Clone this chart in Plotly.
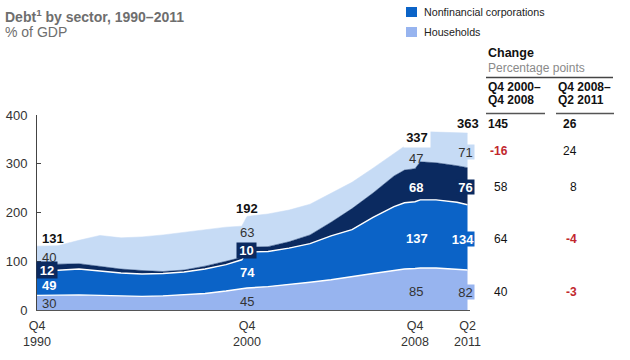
import plotly.graph_objects as go

# ---------------- data (% of GDP) ----------------
quarters = ["1990Q4", "1991Q4", "1992Q4", "1993Q4", "1994Q4", "1995Q4", "1996Q4",
            "1997Q4", "1998Q4", "1999Q4", "2000Q3", "2000Q4", "2001Q4", "2002Q4",
            "2003Q4", "2004Q4", "2005Q4", "2006Q4", "2007Q4", "2008Q2", "2008Q4",
            "2009Q1", "2009Q4", "2010Q4", "2011Q2"]
households = [30, 31, 31, 30, 29, 28, 29, 31, 34, 39, 44, 45, 48, 52, 57, 62, 69, 75, 81,
              84, 85, 86, 86, 84, 82]
corporations = [49, 51, 53, 50, 47, 46, 46, 47, 50, 54, 59, 74, 72, 75, 79, 90, 96, 115,
                131, 136, 137, 140, 140, 137, 134]
financial = [12, 12, 11, 10, 8, 7, 4, 4, 6, 7, 5, 10, 10, 13, 18, 28, 43, 50, 63, 67, 68,
             78, 76, 75, 76]
government = [40, 38, 48, 63, 64, 69, 75, 77, 75, 70, 64, 63, 67, 65, 63, 60, 54, 51, 47,
              49, 47, 62, 63, 68, 71]

label_quarters = ["1990Q4", "2000Q4", "2008Q4", "2011Q2"]
tick_text = ["Q4<br>1990", "Q4<br>2000", "Q4<br>2008", "Q2<br>2011"]

change_2000_2008 = [145, -16, 58, 64, 40]   # total, gov, fin, corp, households
change_2008_2011 = [26, 24, 8, -4, -3]

# ---------------- styles ----------------
FONT = "Arial, 'Liberation Sans', sans-serif"
C_GOV = "#c6dbf5"
C_FIN = "#0b2a60"
C_CORP = "#0b63c7"
C_HH = "#97b4ef"
DARK = "#222222"
RED = "#c1272d"


def qdec(q):
    return int(q[:4]) + (int(q[5]) - 1) / 4.0


x = [qdec(q) for q in quarters]

fig = go.Figure()
series = [("Households", households, C_HH, "white", 1.4),
          ("Nonfinancial corporations", corporations, C_CORP, "white", 1.4),
          ("Financial institutions", financial, C_FIN, C_FIN, 0.5),
          ("Government", government, C_GOV, C_GOV, 0.5)]
for name, vals, fc, lc, lw in series:
    fig.add_trace(go.Scatter(x=x, y=vals, name=name, stackgroup="one", mode="lines",
                             fillcolor=fc, line=dict(color=lc, width=lw, shape="linear"),
                             hoverinfo="skip"))

# plot-area geometry, in page pixels
W, H = 630, 360
PL, PR, PT, PB = 37, 470, 115, 310


def fx(p):
    return (p - PL) / (PR - PL)


def fy(q):
    return (PB - q) / (PB - PT)


annotations = []


def ann(text, px, py, size=13, bold=False, color=DARK, xanchor="center", bg=None,
        w=None, h=None):
    t = "<b>%s</b>" % text if bold else str(text)
    d = dict(text=t, x=fx(px), y=fy(py), xref="paper", yref="paper", showarrow=False,
             xanchor=xanchor, yanchor="middle",
             font=dict(family=FONT, size=size, color=color), borderpad=0)
    if bg is not None:
        d["bgcolor"] = bg
    if w is not None:
        d["width"] = w
    if h is not None:
        d["height"] = h
    annotations.append(d)


def val(series_vals, q):
    return series_vals[quarters.index(q)]


def total(q):
    i = quarters.index(q)
    return households[i] + corporations[i] + financial[i] + government[i]


# 1990
q = "1990Q4"
ann(total(q), 41, 238.5, bold=True, color="#111", xanchor="left")
ann(val(government, q), 41, 257, xanchor="left", color="#333")
ann(val(financial, q), 47, 270, bold=True, color="white", bg=C_FIN, w=20, h=16)
ann(val(corporations, q), 41, 285, bold=True, color="white", xanchor="left")
ann(val(households, q), 41, 303, xanchor="left", color="#333")
# 2000
q = "2000Q4"
ann(total(q), 247, 208, bold=True, color="#111")
ann(val(government, q), 247, 232, color="#333")
ann(val(financial, q), 246, 250.5, bold=True, color="white", bg=C_FIN, w=19, h=15)
ann(val(corporations, q), 247, 272, bold=True, color="white")
ann(val(households, q), 247, 301, color="#333")
# 2008
q = "2008Q4"
ann(total(q), 416.5, 137.5, bold=True, color="#111", bg="white", w=26, h=19)
ann(val(government, q), 415.5, 158, color="#333")
ann(val(financial, q), 415.5, 187, bold=True, color="white")
ann(val(corporations, q), 416.5, 238, bold=True, color="white")
ann(val(households, q), 416, 291, color="#333")
# 2011
q = "2011Q2"
ann(total(q), 467.5, 124, bold=True, color="#111")
ann(val(government, q), 465.5, 151.5, color="#333", bg=C_GOV, w=17, h=14)
ann(val(financial, q), 465.5, 187, bold=True, color="white", bg=C_FIN, w=17, h=14)
ann(val(corporations, q), 463, 238.5, bold=True, color="white", bg=C_CORP, w=22, h=14)
ann(val(households, q), 465.5, 291.5, color="#333", bg=C_HH, w=17, h=14)

# change table
row_y = [124, 151, 187, 239, 291.7]
for i, (a, b) in enumerate(zip(change_2000_2008, change_2008_2011)):
    for v, xr in ((a, 508.5), (b, 577.5)):
        neg = v < 0
        ann(str(v), xr, row_y[i], size=12, bold=(i == 0 or neg),
            color=RED if neg else "#111", xanchor="right")

ann("Change", 487, 53, size=12.5, bold=True, color="#111", xanchor="left")
ann("Percentage points", 487, 67.5, size=12, color="#8a8a8a", xanchor="left")
ann("Q4 2000–", 487, 87, size=12, bold=True, color="#111", xanchor="left")
ann("Q4 2008", 487, 100, size=12, bold=True, color="#111", xanchor="left")
ann("Q4 2008–", 557, 87, size=12, bold=True, color="#111", xanchor="left")
ann("Q2 2011", 557, 100, size=12, bold=True, color="#111", xanchor="left")

# titles
ann("Debt<sup>1</sup> by sector, 1990–2011", 4, 16, size=14, bold=True,
    color="#6e6e6e", xanchor="left")
ann("% of GDP", 4, 32.5, size=14, color="#6e6e6e", xanchor="left")

# legend (visible entries)
ann("Nonfinancial corporations", 423, 12, size=10.7, color="#222", xanchor="left")
ann("Households", 423, 32, size=10.7, color="#222", xanchor="left")

shapes = []


def rect(x0, y0, x1, y1, color):
    shapes.append(dict(type="rect", xref="paper", yref="paper", x0=fx(x0), x1=fx(x1),
                       y0=fy(y1), y1=fy(y0), fillcolor=color, line=dict(width=0)))


def hline(x0, x1, yy, color="#555", width=1.5):
    shapes.append(dict(type="line", xref="paper", yref="paper", x0=fx(x0), x1=fx(x1),
                       y0=fy(yy), y1=fy(yy), line=dict(color=color, width=width)))


rect(406, 7, 417, 17, C_CORP)
rect(406, 27, 417, 37, C_HH)
hline(486, 613, 77.5, "#444", 1.5)
hline(486, 545, 113.5, "#555", 1.5)
hline(556, 614, 113.5, "#555", 1.5)

fig.update_layout(
    width=W, height=H, autosize=False,
    margin=dict(l=PL, r=W - PR, t=PT, b=H - PB, pad=0, autoexpand=False),
    plot_bgcolor="white", paper_bgcolor="white",
    showlegend=False,
    font=dict(family=FONT, color="#333"),
    annotations=annotations, shapes=shapes,
    xaxis=dict(range=[qdec("1990Q4"), qdec("1990Q4") + (PR - PL) / 21.0],
               tickvals=[qdec(q) for q in label_quarters], ticktext=tick_text,
               showgrid=False, zeroline=False, showline=True, linecolor="#555",
               linewidth=1, ticks="", tickfont=dict(size=12.5, color="#333"),
               ticklabelstandoff=4, automargin=False),
    yaxis=dict(range=[0, 400], tickvals=[0, 100, 200, 300, 400], showgrid=False,
               zeroline=False, showline=True, linecolor="#444", linewidth=1,
               ticks="inside", ticklen=4, tickcolor="#444",
               tickfont=dict(size=13, color="#333"), ticklabelstandoff=6,
               automargin=False),
)

fig.write_html("out.html",
               config={"displayModeBar": False, "staticPlot": True},
               post_script="document.body.style.margin='0';"
                           "document.body.style.overflow='hidden';")
